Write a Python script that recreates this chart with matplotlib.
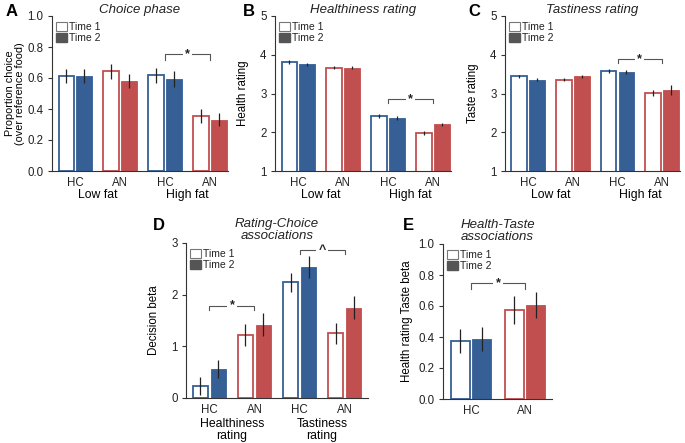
import matplotlib.pyplot as plt
from matplotlib.patches import Patch

plt.rcParams['font.family'] = ['Liberation Sans', 'DejaVu Sans']

BLUE = '#365f96'
RED = '#c24f4f'
AX_COL = '#333333'

# ---- data ----
groups = ['HC', 'AN', 'HC', 'AN']
grp_colors = [BLUE, RED, BLUE, RED]

choice_t1 = [0.613, 0.643, 0.617, 0.357]
choice_t2 = [0.613, 0.580, 0.594, 0.331]
choice_e1 = [0.048, 0.047, 0.047, 0.046]
choice_e2 = [0.045, 0.043, 0.053, 0.043]

health_t1 = [3.81, 3.66, 2.43, 1.99]
health_t2 = [3.76, 3.67, 2.37, 2.21]
health_e1 = [0.06, 0.04, 0.05, 0.05]
health_e2 = [0.04, 0.03, 0.05, 0.04]

taste_t1 = [3.44, 3.36, 3.59, 3.01]
taste_t2 = [3.36, 3.44, 3.55, 3.09]
taste_e1 = [0.05, 0.05, 0.05, 0.08]
taste_e2 = [0.04, 0.05, 0.05, 0.13]

decision_t1 = [0.23, 1.22, 2.24, 1.25]
decision_t2 = [0.56, 1.42, 2.53, 1.75]
decision_e1 = [0.18, 0.21, 0.18, 0.20]
decision_e2 = [0.17, 0.22, 0.21, 0.22]

ht_groups = ['HC', 'AN']
ht_colors = [BLUE, RED]
ht_t1 = [0.374, 0.576]
ht_t2 = [0.387, 0.606]
ht_e1 = [0.08, 0.09]
ht_e2 = [0.08, 0.085]

W = 0.35
OFF = 0.2


def bars(ax, t1, t2, e1, e2, cols):
    for i, (a, b, ea, eb, c) in enumerate(zip(t1, t2, e1, e2, cols)):
        ax.bar(i - OFF, a, W, facecolor='white', edgecolor=c, linewidth=1.3, zorder=2)
        ax.bar(i + OFF, b, W, facecolor=c, edgecolor=c, linewidth=0.6, zorder=2)
        ax.errorbar(i - OFF, a, yerr=ea, fmt='none', ecolor='#222222', elinewidth=0.9, capsize=0, zorder=3)
        ax.errorbar(i + OFF, b, yerr=eb, fmt='none', ecolor='#222222', elinewidth=0.9, capsize=0, zorder=3)


def style(ax, ylim, yticks, fmt, labels):
    ax.set_ylim(*ylim)
    ax.set_yticks(yticks)
    ax.set_yticklabels([fmt.format(v) for v in yticks], fontsize=8.3, color='#222222')
    ax.set_xticks(range(len(labels)))
    ax.set_xticklabels(labels, fontsize=8.3, color='#222222')
    ax.tick_params(axis='x', length=0, pad=4)
    ax.tick_params(axis='y', length=3, width=0.8, color=AX_COL, pad=3)
    for s in ['top', 'right']:
        ax.spines[s].set_visible(False)
    for s in ['left', 'bottom']:
        ax.spines[s].set_color(AX_COL)
        ax.spines[s].set_linewidth(0.8)
    leg = ax.legend(handles=[Patch(facecolor='white', edgecolor='#777777', linewidth=0.8, label='Time 1'),
                             Patch(facecolor='#555555', edgecolor='#555555', label='Time 2')],
                    loc='upper left', bbox_to_anchor=(0.0, 0.99), frameon=False, fontsize=7.5,
                    handlelength=1.0, handleheight=1.0, handletextpad=0.2, labelspacing=0.1,
                    borderaxespad=0.2, borderpad=0.2)
    for t in leg.get_texts():
        t.set_color('#222222')


def bracket(ax, x1, x2, y, drop, sym):
    ax.plot([x1, x1, x2, x2], [y - drop, y, y, y - drop], color='#555555', lw=0.8, zorder=1)
    ax.text((x1 + x2) / 2, y, sym, ha='center', va='center', fontsize=9, fontweight='bold',
            color='#222222', bbox=dict(facecolor='white', edgecolor='none', pad=1.5), zorder=4)


fig = plt.figure(figsize=(6.85, 4.43), dpi=100)

# A
axA = fig.add_axes([52 / 685, 1 - 171 / 443, 176 / 685, 155 / 443])
bars(axA, choice_t1, choice_t2, choice_e1, choice_e2, grp_colors)
axA.set_xlim(-0.52, 3.4)
style(axA, (0, 1.0), [0, 0.2, 0.4, 0.6, 0.8, 1.0], '{:.1f}', groups)
axA.set_ylabel('Proportion choice\n(over reference food)', fontsize=7.8, labelpad=2, linespacing=1.0)
bracket(axA, 2, 3, 0.753, 0.035, '*')

# B
axB = fig.add_axes([275 / 685, 1 - 171 / 443, 176 / 685, 155 / 443])
bars(axB, health_t1, health_t2, health_e1, health_e2, grp_colors)
axB.set_xlim(-0.52, 3.4)
style(axB, (1, 5), [1, 2, 3, 4, 5], '{:d}', groups)
axB.set_ylabel('Health rating', fontsize=8.3, labelpad=8)
bracket(axB, 2, 3, 2.86, 0.11, '*')

# C
axC = fig.add_axes([505 / 685, 1 - 171 / 443, 175 / 685, 155 / 443])
bars(axC, taste_t1, taste_t2, taste_e1, taste_e2, grp_colors)
axC.set_xlim(-0.52, 3.4)
style(axC, (1, 5), [1, 2, 3, 4, 5], '{:d}', groups)
axC.set_ylabel('Taste rating', fontsize=8.3, labelpad=8)
bracket(axC, 2, 3, 3.89, 0.11, '*')

for ax, title in [(axA, 'Choice phase'), (axB, 'Healthiness rating'), (axC, 'Tastiness rating')]:
    ax.set_title(title, fontsize=9.5, style='italic', pad=0, color='#222222')
    ax.text(0.5, -0.155, 'Low fat', transform=ax.get_xaxis_transform(), ha='center', va='center', fontsize=8.8)
    ax.text(2.5, -0.155, 'High fat', transform=ax.get_xaxis_transform(), ha='center', va='center', fontsize=8.8)

# D
axD = fig.add_axes([186 / 685, 1 - 398 / 443, 182 / 685, 155 / 443])
bars(axD, decision_t1, decision_t2, decision_e1, decision_e2, grp_colors)
axD.set_xlim(-0.52, 3.52)
style(axD, (0, 3), [0, 1, 2, 3], '{:d}', groups)
axD.set_ylabel('Decision beta', fontsize=8.3, labelpad=8)
axD.set_title('Rating-Choice\nassociations', fontsize=9.5, style='italic', pad=3, linespacing=0.95, color='#222222')
bracket(axD, 0, 1, 1.79, 0.08, '*')
bracket(axD, 2, 3, 2.87, 0.09, '^')
axD.text(0.5, -0.205, 'Healthiness\nrating', transform=axD.get_xaxis_transform(), ha='center', va='center',
         fontsize=8.8, linespacing=0.95)
axD.text(2.5, -0.205, 'Tastiness\nrating', transform=axD.get_xaxis_transform(), ha='center', va='center',
         fontsize=8.8, linespacing=0.95)

# E
axE = fig.add_axes([443 / 685, 1 - 399 / 443, 109 / 685, 155 / 443])
bars(axE, ht_t1, ht_t2, ht_e1, ht_e2, ht_colors)
axE.set_xlim(-0.52, 1.5)
style(axE, (0, 1.0), [0, 0.2, 0.4, 0.6, 0.8, 1.0], '{:.1f}', ht_groups)
axE.set_ylabel('Health rating Taste beta', fontsize=8.3, labelpad=4)
axE.set_title('Health-Taste\nassociations', fontsize=9.5, style='italic', pad=3, linespacing=0.95, color='#222222')
bracket(axE, 0, 1, 0.746, 0.035, '*')

# panel letters
for x, y, s in [(6, 12, 'A'), (243, 12, 'B'), (468, 12, 'C'), (153, 225, 'D'), (403, 225, 'E')]:
    fig.text(x / 685, 1 - y / 443, s, fontsize=12, fontweight='bold', ha='left', va='center')

fig.savefig('out.png', dpi=100)
